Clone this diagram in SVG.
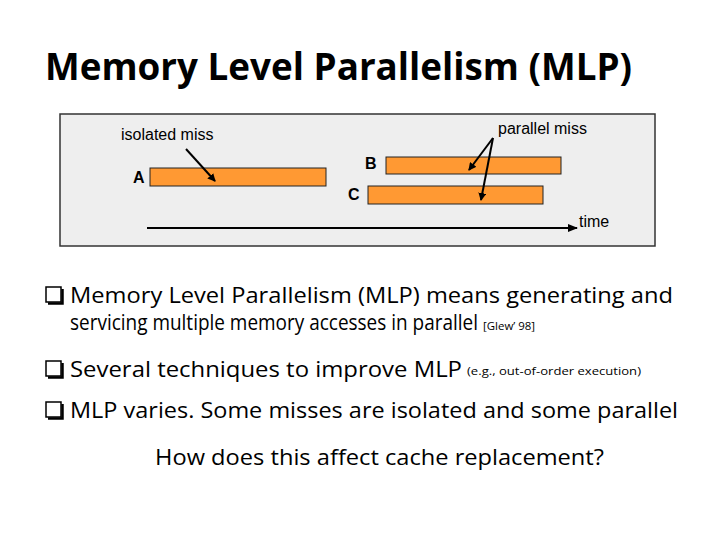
<svg xmlns="http://www.w3.org/2000/svg" width="720" height="540" viewBox="0 0 720 540">
<style>
.lbl{font-family:"Liberation Sans",Arial,sans-serif;font-size:16px;fill:#000}
.bl{font-family:"Liberation Sans",Arial,sans-serif;font-size:16px;font-weight:bold;fill:#000}
.body{font-family:"Open Sans","Noto Sans",sans-serif;font-size:22px;fill:#000}
.small{font-family:"Open Sans","Noto Sans",sans-serif;font-size:11px;fill:#000}
.bar{fill:#ff9933;stroke:#222;stroke-width:1}
.ln{stroke:#000;stroke-width:2;fill:none}
</style>
<defs>
<marker id="ah" markerWidth="8" markerHeight="8" refX="7" refY="4" orient="auto" markerUnits="userSpaceOnUse">
<path d="M0,0 L8,4 L0,8 z" fill="#000"/>
</marker>
<marker id="ahBig" markerWidth="10" markerHeight="10" refX="9" refY="5" orient="auto" markerUnits="userSpaceOnUse">
<path d="M0,1 L10,5 L0,9 z" fill="#000"/>
</marker>
<g id="chk">
<rect x="0" y="0" width="15" height="15" fill="#fff" stroke="#000" stroke-width="1.5"/>
<path d="M2,16.5 H16.5 V2" stroke="#000" stroke-width="2.5" fill="none"/>
</g>
</defs>
<rect width="720" height="540" fill="#fff"/>
<text id="title" x="45" y="80" font-family="'Open Sans','Noto Sans',sans-serif" font-weight="bold" font-size="37" textLength="587" lengthAdjust="spacingAndGlyphs">Memory Level Parallelism (MLP)</text>

<g id="panel">
<rect x="60" y="114" width="595" height="132" fill="#eeeeee" stroke="#333" stroke-width="1.5"/>
</g>
<g id="barA"><rect class="bar" x="150" y="168" width="176" height="18"/><text class="bl" x="133" y="183">A</text></g>
<g id="barB"><rect class="bar" x="386" y="157" width="175" height="17"/><text class="bl" x="365" y="169">B</text></g>
<g id="barC"><rect class="bar" x="368" y="186" width="175" height="18"/><text class="bl" x="348" y="200">C</text></g>
<g id="labels">
<text class="lbl" x="121" y="140">isolated miss</text>
<text class="lbl" x="498" y="134">parallel miss</text>
<text class="lbl" x="579" y="227">time</text>
</g>
<g id="connectors">
<line class="ln" x1="186" y1="149" x2="215" y2="181" stroke-width="1.5" marker-end="url(#ah)"/>
<line class="ln" x1="493" y1="138" x2="469" y2="170" stroke-width="1.5" marker-end="url(#ah)"/>
<line class="ln" x1="493" y1="138" x2="481" y2="200" stroke-width="1.5" marker-end="url(#ah)"/>
<line class="ln" x1="147" y1="228" x2="577" y2="228" stroke-width="3" marker-end="url(#ahBig)"/>
</g>

<g id="bullets">
<use href="#chk" x="46" y="287"/>
<text class="body" x="70" y="303" textLength="603" lengthAdjust="spacingAndGlyphs">Memory Level Parallelism (MLP) means generating and</text>
<text class="body" x="70" y="330" textLength="408" lengthAdjust="spacingAndGlyphs">servicing multiple memory accesses in parallel</text>
<text class="small" x="483" y="330" textLength="52" lengthAdjust="spacingAndGlyphs">[Glew’ 98]</text>
<use href="#chk" x="46" y="361"/>
<text class="body" x="70" y="377" textLength="392" lengthAdjust="spacingAndGlyphs">Several techniques to improve MLP</text>
<text class="small" x="467" y="375" textLength="174" lengthAdjust="spacingAndGlyphs">(e.g., out-of-order execution)</text>
<use href="#chk" x="46" y="402"/>
<text class="body" x="70" y="418" textLength="608" lengthAdjust="spacingAndGlyphs">MLP varies. Some misses are isolated and some parallel</text>
<text class="body" x="155" y="465" textLength="449" lengthAdjust="spacingAndGlyphs">How does this affect cache replacement?</text>
</g>
</svg>
